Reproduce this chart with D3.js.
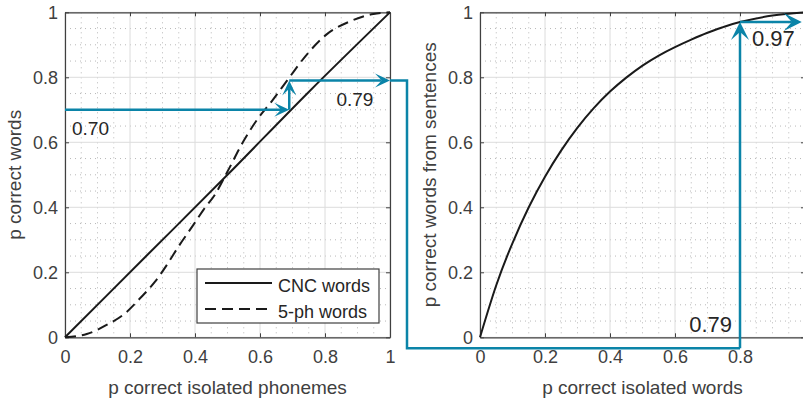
<!DOCTYPE html>
<html>
<head>
<meta charset="utf-8">
<script src="https://cdn.jsdelivr.net/npm/d3@7"></script>
<style>
  body { margin: 0; background: #fff; }
  svg { display: block; font-family: "Liberation Sans", Arial, Helvetica, sans-serif; }
</style>
</head>
<body>
<div id="chart"></div>
<script>
// ---------------- data ----------------
var tickValues = [0, 0.2, 0.4, 0.6, 0.8, 1]
var tickLabels = ["0", "0.2", "0.4", "0.6", "0.8", "1"]

// left panel: p correct isolated phonemes -> p correct words
var cncX = [0, 0.25, 0.5, 0.75, 1]
var cncY = [0, 0.25, 0.5, 0.755, 1]
var fivePhX = [0, 0.067, 0.128, 0.185, 0.231, 0.277, 0.313, 0.349, 0.395, 0.426, 0.462, 0.5, 0.549, 0.595, 0.636, 0.687, 0.744, 0.805, 0.877, 0.949, 1]
var fivePhY = [0, 0.01, 0.038, 0.074, 0.12, 0.171, 0.222, 0.279, 0.346, 0.392, 0.44, 0.51, 0.603, 0.675, 0.726, 0.795, 0.87, 0.932, 0.972, 0.995, 1]

// right panel: p correct isolated words -> p correct words from sentences
var wordX = [0, 0.05, 0.1, 0.15, 0.2, 0.25, 0.3, 0.35, 0.4, 0.45, 0.5, 0.55, 0.6, 0.65, 0.7, 0.75, 0.8, 0.9, 1]
var sentY = [0, 0.16, 0.29, 0.4, 0.494, 0.575, 0.645, 0.705, 0.756, 0.799, 0.836, 0.867, 0.893, 0.916, 0.937, 0.955, 0.97, 0.99, 1]

// worked example (arrows)
var wordsStart = 0.70
var phonemeAt = 0.69
var wordsIsolated = 0.79
var wordsSentence = 0.97

var legendLabels = ["CNC words", "5-ph words"]

// ---------------- layout ----------------
var width = 803, height = 402
var blue = "#0b84a8"
var ink = "#262626"
var axisGray = "#404040"

var svg = d3.select("#chart").append("svg")
  .attr("width", width)
  .attr("height", height)

var y = d3.scaleLinear().domain([0, 1]).range([337.3, 12.3])
var xL = d3.scaleLinear().domain([0, 1]).range([65, 390])
var xR = d3.scaleLinear().domain([0, 1]).range([480, 805])

var minorTicks = d3.range(0, 1.0001, 0.05).filter(function(v) {
  return Math.abs(v * 5 - Math.round(v * 5)) > 1e-6
})

function drawPanel(x, xLabel, yLabel) {
  var g = svg.append("g")
  var x0 = x.range()[0], x1 = x.range()[1]
  var y0 = y.range()[0], y1 = y.range()[1]

  g.append("rect")
    .attr("x", x0).attr("y", y1)
    .attr("width", x1 - x0).attr("height", y0 - y1)
    .attr("fill", "#fff")

  // minor grid (dotted)
  g.selectAll(".mx").data(minorTicks).enter().append("line")
    .attr("x1", function(d) { return x(d) }).attr("x2", function(d) { return x(d) })
    .attr("y1", y1).attr("y2", y0)
    .attr("stroke", "#b8b8b8").attr("stroke-width", 1).attr("stroke-dasharray", "1,4")
  g.selectAll(".my").data(minorTicks).enter().append("line")
    .attr("y1", function(d) { return y(d) }).attr("y2", function(d) { return y(d) })
    .attr("x1", x0).attr("x2", x1)
    .attr("stroke", "#b8b8b8").attr("stroke-width", 1).attr("stroke-dasharray", "1,4")

  // major grid
  g.selectAll(".gx").data(tickValues).enter().append("line")
    .attr("x1", function(d) { return x(d) }).attr("x2", function(d) { return x(d) })
    .attr("y1", y1).attr("y2", y0)
    .attr("stroke", "#dcdcdc").attr("stroke-width", 1)
  g.selectAll(".gy").data(tickValues).enter().append("line")
    .attr("y1", function(d) { return y(d) }).attr("y2", function(d) { return y(d) })
    .attr("x1", x0).attr("x2", x1)
    .attr("stroke", "#dcdcdc").attr("stroke-width", 1)

  // axes, ticks pointing inwards
  var fmt = function(d, i) { return tickLabels[i] }
  var axB = g.append("g").attr("transform", "translate(0," + y0 + ")")
    .call(d3.axisBottom(x).tickValues(tickValues).tickFormat(fmt).tickSizeInner(-4).tickSizeOuter(0).tickPadding(13))
  var axL = g.append("g").attr("transform", "translate(" + x0 + ",0)")
    .call(d3.axisLeft(y).tickValues(tickValues).tickFormat(fmt).tickSizeInner(-4).tickSizeOuter(0).tickPadding(7))
  var axT = g.append("g").attr("transform", "translate(0," + y1 + ")")
    .call(d3.axisTop(x).tickValues(tickValues).tickFormat("").tickSizeInner(-4).tickSizeOuter(0))
  var axR = g.append("g").attr("transform", "translate(" + x1 + ",0)")
    .call(d3.axisRight(y).tickValues(tickValues).tickFormat("").tickSizeInner(-4).tickSizeOuter(0))

  ;[axB, axL, axT, axR].forEach(function(a) {
    a.select(".domain").attr("stroke", axisGray).attr("stroke-width", 1.2)
    a.selectAll(".tick line").attr("stroke", axisGray).attr("stroke-width", 1)
    a.selectAll(".tick text").attr("fill", axisGray).style("font-size", "18px")
      .style("font-family", "'Liberation Sans', Arial, sans-serif")
  })
  // the figure is cropped on the right: drop tick labels falling past the edge
  axB.selectAll(".tick").filter(function(d) { return x(d) > width - 6 }).select("text").remove()

  // axis titles
  g.append("text")
    .attr("x", (x0 + x1) / 2).attr("y", 394)
    .attr("text-anchor", "middle")
    .attr("fill", axisGray).style("font-size", "19px")
    .text(xLabel)
  g.append("text")
    .attr("transform", "translate(" + (x0 - 44) + "," + ((y0 + y1) / 2) + ") rotate(-90)")
    .attr("text-anchor", "middle")
    .attr("fill", axisGray).style("font-size", "19px")
    .text(yLabel)
  return g
}

var left = drawPanel(xL, "p correct isolated phonemes", "p correct words")
var right = drawPanel(xR, "p correct isolated words", "p correct words from sentences")

// ---------------- curves ----------------
function pts(xs, ys) { return xs.map(function(v, i) { return [v, ys[i]] }) }

var lineLeft = d3.line()
  .x(function(d) { return xL(d[0]) })
  .y(function(d) { return y(d[1]) })
  .curve(d3.curveMonotoneX)
var lineRight = d3.line()
  .x(function(d) { return xR(d[0]) })
  .y(function(d) { return y(d[1]) })
  .curve(d3.curveNatural)

left.append("path").datum(pts(cncX, cncY))
  .attr("d", lineLeft).attr("fill", "none").attr("stroke", "#1a1a1a").attr("stroke-width", 2)
left.append("path").datum(pts(fivePhX, fivePhY))
  .attr("d", lineLeft).attr("fill", "none").attr("stroke", "#1a1a1a").attr("stroke-width", 2)
  .attr("stroke-dasharray", "11,6")
right.append("path").datum(pts(wordX, sentY))
  .attr("d", lineRight).attr("fill", "none").attr("stroke", "#1a1a1a").attr("stroke-width", 2)

// ---------------- legend ----------------
var leg = left.append("g")
leg.append("rect")
  .attr("x", 197).attr("y", 269).attr("width", 182).attr("height", 54)
  .attr("fill", "#fff").attr("stroke", axisGray).attr("stroke-width", 1.2)
leg.selectAll(".ll").data(legendLabels).enter().append("line")
  .attr("x1", 205).attr("x2", 272)
  .attr("y1", function(d, i) { return 283 + i * 26 })
  .attr("y2", function(d, i) { return 283 + i * 26 })
  .attr("stroke", "#1a1a1a").attr("stroke-width", 2)
  .attr("stroke-dasharray", function(d, i) { return i ? "11,6" : null })
leg.selectAll(".lt").data(legendLabels).enter().append("text")
  .attr("x", 278)
  .attr("y", function(d, i) { return 291.5 + i * 26 })
  .attr("fill", ink).style("font-size", "18px")
  .text(function(d) { return d })

// ---------------- arrows ----------------
var arrows = svg.append("g")

// line from p1 to p2, with a notched head at p2
function arrow(x1, y1, x2, y2, len, wid) {
  var dx = x2 - x1, dy = y2 - y1
  var L = Math.sqrt(dx * dx + dy * dy)
  var ux = dx / L, uy = dy / L
  var nx = -uy, ny = ux
  var back = len * 0.55
  arrows.append("line")
    .attr("x1", x1).attr("y1", y1)
    .attr("x2", x2 - ux * back).attr("y2", y2 - uy * back)
    .attr("stroke", blue).attr("stroke-width", 2.5)
  var head = [
    [x2, y2],
    [x2 - ux * len + nx * wid / 2, y2 - uy * len + ny * wid / 2],
    [x2 - ux * back, y2 - uy * back],
    [x2 - ux * len - nx * wid / 2, y2 - uy * len - ny * wid / 2]
  ]
  arrows.append("path")
    .attr("d", "M" + head.join("L") + "Z")
    .attr("fill", blue)
}

arrow(xL(0), y(wordsStart), xL(phonemeAt), y(wordsStart), 15, 14)
arrow(xL(phonemeAt), y(wordsStart), xL(phonemeAt), y(wordsIsolated), 15, 14)
arrow(xL(phonemeAt), y(wordsIsolated), xL(1), y(wordsIsolated), 15, 14)

// connector running outside the axes from left panel to right panel
var cx = xL(1) + 17, cy = y(0) + 11
arrows.append("path")
  .attr("d", "M" + xL(1) + "," + y(wordsIsolated) + "H" + cx + "V" + cy + "H" + xR(wordsIsolated + 0.01))
  .attr("fill", "none").attr("stroke", blue).attr("stroke-width", 2.5)
arrow(xR(wordsIsolated + 0.01), cy, xR(wordsIsolated + 0.01), y(wordsSentence), 18, 18)
arrow(xR(wordsIsolated + 0.01), y(wordsSentence), xR(0.99), y(wordsSentence), 18, 18)

// ---------------- value labels ----------------
svg.append("text").attr("x", xL(0) + 7).attr("y", y(wordsStart) + 25)
  .attr("fill", ink).style("font-size", "19px").text(wordsStart.toFixed(2))
svg.append("text").attr("x", xL(0.835)).attr("y", y(wordsIsolated) + 25)
  .attr("fill", ink).style("font-size", "19px").text(wordsIsolated.toFixed(2))
svg.append("text").attr("x", xR(0.8) - 8).attr("y", y(0) - 5)
  .attr("text-anchor", "end")
  .attr("fill", ink).style("font-size", "22px").text(wordsIsolated.toFixed(2))
svg.append("text").attr("x", xR(0.8) + 12).attr("y", y(wordsSentence) + 24)
  .attr("fill", ink).style("font-size", "22px").text(wordsSentence.toFixed(2))
</script>
</body>
</html>
